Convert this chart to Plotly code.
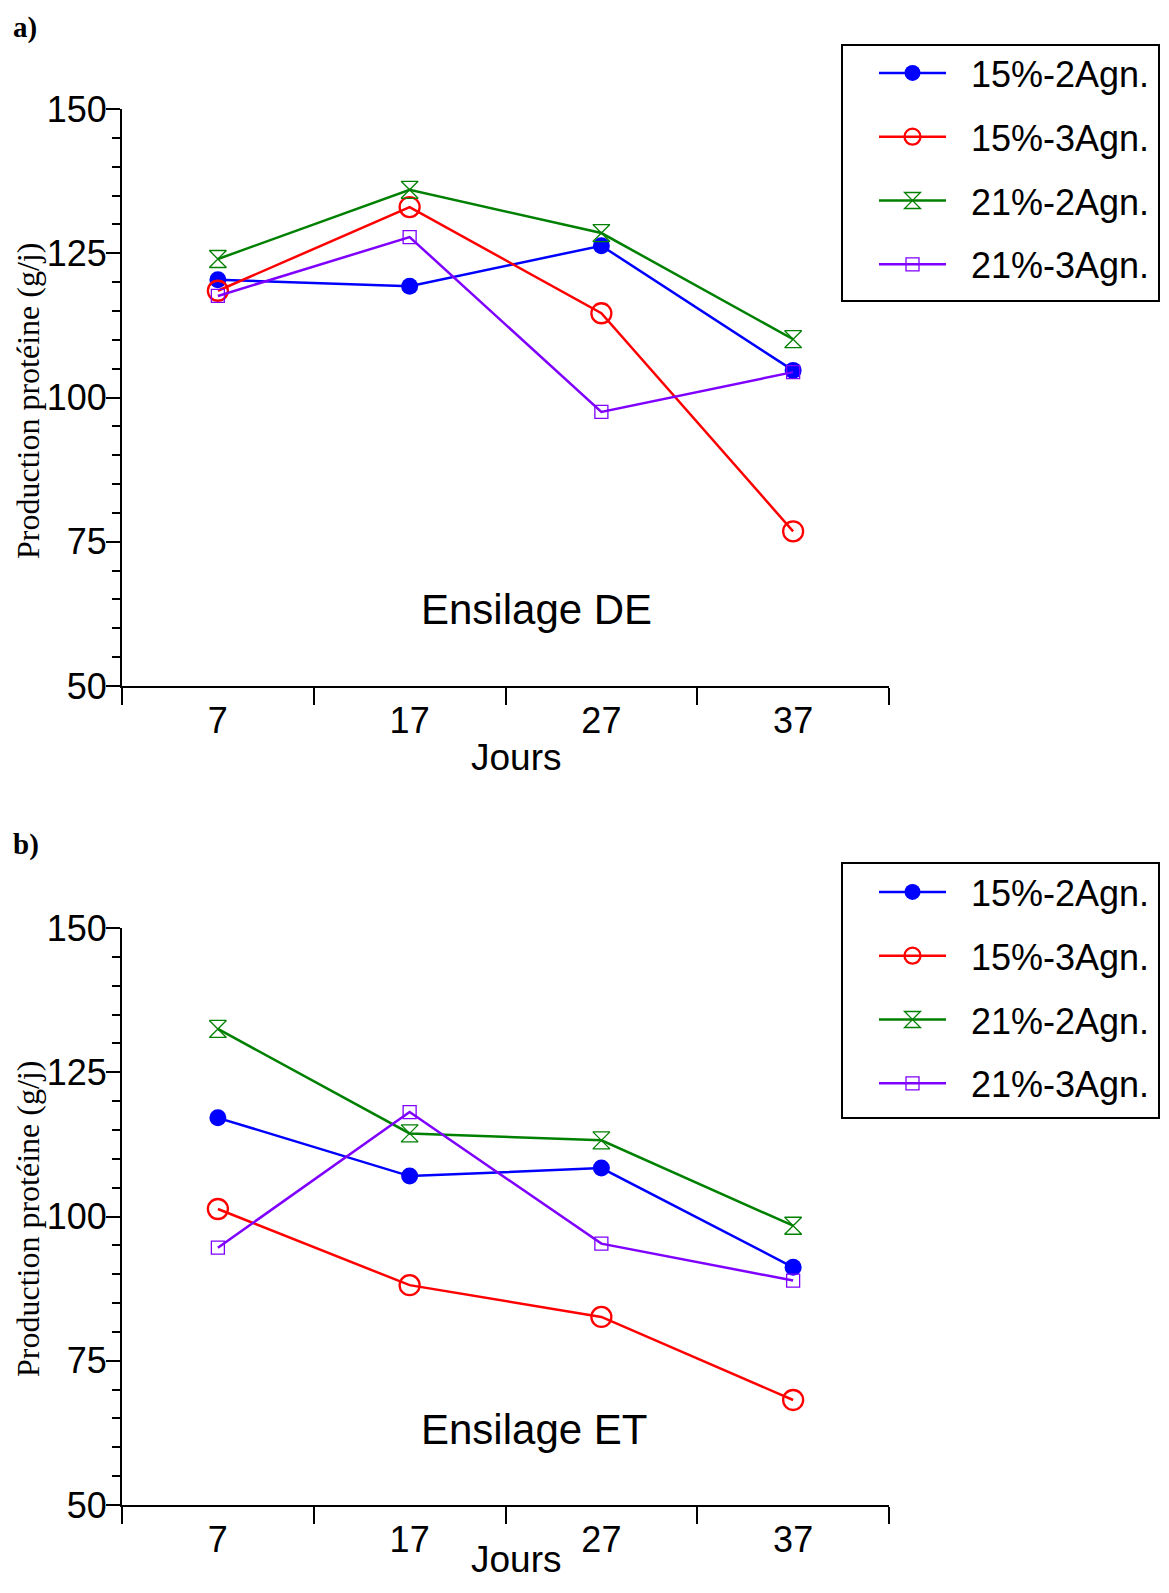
import plotly.graph_objects as go

# ---- data ----
days = [7, 17, 27, 37]
day_labels = ["7", "17", "27", "37"]
series_names = ["15%-2Agn.", "15%-3Agn.", "21%-2Agn.", "21%-3Agn."]

de_15_2 = [120.4, 119.3, 126.3, 104.7]
de_15_3 = [118.5, 133.0, 114.6, 76.8]
de_21_2 = [124.0, 136.0, 128.5, 110.1]
de_21_3 = [117.6, 127.8, 97.5, 104.4]

et_15_2 = [117.1, 107.0, 108.4, 91.2]
et_15_3 = [101.3, 88.1, 82.6, 68.2]
et_21_2 = [132.5, 114.4, 113.2, 98.4]
et_21_3 = [94.6, 118.1, 95.3, 88.9]

y_ticks = [50, 75, 100, 125, 150]
panel_titles = ["Ensilage DE", "Ensilage ET"]
panel_labels = ["a)", "b)"]
x_title = "Jours"
y_title = "Production protéine (g/j)"

# ---- styles ----
colors = ["#0000FF", "#FF0000", "#008000", "#7F00FF"]
symbols = ["circle", "circle-open", "hourglass-open", "square-open"]
msizes = [17, 20, 17, 13]
mlw = [0, 2.3, 1.3, 1.3]

SANS = "Liberation Sans, Arial, sans-serif"
SERIF = "Liberation Serif, Times New Roman, serif"

# page has an 8px body margin: work in screen pixels and convert
OFF = 8
SW, SH = 1169, 1593
FW, FH = SW - OFF, SH - 2 * OFF

def px(sx):
    return (sx - OFF) / FW

def py(sy):
    return 1 - (sy - OFF) / FH

fig = go.Figure()

panels = [
    ([de_15_2, de_15_3, de_21_2, de_21_3], "x", "y", "legend"),
    ([et_15_2, et_15_3, et_21_2, et_21_3], "x2", "y2", "legend2"),
]
for p, (series, xa, ya, lg) in enumerate(panels):
    for i, vals in enumerate(series):
        fig.add_trace(go.Scatter(
            x=days, y=vals, mode="lines+markers",
            name="\u00a0\u00a0" + series_names[i],
            xaxis=xa, yaxis=ya, legend=lg, legendgroup=f"{lg}_{i}",
            line=dict(color=colors[i], width=2.5),
            marker=dict(symbol=symbols[i], size=msizes[i], color=colors[i],
                        line=dict(color=colors[i], width=mlw[i])),
        ))

xdom = [px(122), px(889)]
ydoms = [[py(686), py(109)], [py(1505), py(928)]]

def xaxis_cfg(anchor):
    return dict(
        domain=xdom, anchor=anchor, range=[2, 42], automargin=False,
        tickmode="array", tickvals=days, ticktext=day_labels,
        ticks="outside", ticklen=0, ticklabelstandoff=2,
        tickfont=dict(family=SANS, size=36, color="black"),
        minor=dict(tickmode="linear", tick0=2, dtick=10, ticks="outside",
                   ticklen=17, tickwidth=2, tickcolor="black", showgrid=False),
        showline=True, linewidth=2, linecolor="black",
        showgrid=False, zeroline=False,
    )

def yaxis_cfg(dom, anchor):
    return dict(
        domain=dom, anchor=anchor, range=[50, 150], automargin=False,
        tickmode="array", tickvals=y_ticks,
        ticks="outside", ticklen=14, tickwidth=2, tickcolor="black",
        ticklabelstandoff=-8,
        tickfont=dict(family=SANS, size=36, color="black"),
        minor=dict(tickmode="linear", tick0=50, dtick=5, ticks="outside",
                   ticklen=8, tickwidth=2, tickcolor="black", showgrid=False),
        showline=True, linewidth=2, linecolor="black",
        showgrid=False, zeroline=False,
    )

legend_common = dict(
    font=dict(family=SANS, size=36, color="black"),
    bgcolor="rgba(0,0,0,0)", borderwidth=0,
    xanchor="left", yanchor="top", tracegroupgap=14, itemwidth=67,
)

fig.update_layout(
    width=FW, height=FH, margin=dict(l=0, r=0, t=0, b=0),
    plot_bgcolor="white", paper_bgcolor="white",
    xaxis=xaxis_cfg("y"), yaxis=yaxis_cfg(ydoms[0], "x"),
    xaxis2=xaxis_cfg("y2"), yaxis2=yaxis_cfg(ydoms[1], "x2"),
    legend=dict(x=px(874), y=py(43), **legend_common),
    legend2=dict(x=px(874), y=py(862), **legend_common),
)

# legend frames
shapes = []
for top, bot in [(45, 301), (863, 1118)]:
    shapes.append(dict(type="rect", xref="paper", yref="paper",
                       x0=px(842), x1=px(1159), y0=py(bot), y1=py(top),
                       line=dict(color="black", width=2), fillcolor="rgba(0,0,0,0)",
                       layer="below"))
fig.update_layout(shapes=shapes)

annos = []
title_pos = [(23.64, 63.2), (23.5, 63.0)]
ytitle_centres = [401, 1219]
xtitle_centres = [757, 1559]
for p in range(2):
    xr, yr = ("x", "y") if p == 0 else ("x2", "y2")
    annos.append(dict(text=panel_titles[p], x=title_pos[p][0], y=title_pos[p][1],
                      xref=xr, yref=yr, xanchor="center", yanchor="middle",
                      showarrow=False, font=dict(family=SANS, size=42, color="black")))
    annos.append(dict(text=y_title, textangle=-90, x=px(28), y=py(ytitle_centres[p]),
                      xref="paper", yref="paper", xanchor="center", yanchor="middle",
                      showarrow=False, font=dict(family=SERIF, size=32, color="black")))
    annos.append(dict(text=x_title, x=px(516), y=py(xtitle_centres[p]),
                      xref="paper", yref="paper", xanchor="center", yanchor="middle",
                      showarrow=False, font=dict(family=SANS, size=37, color="black")))
for lab, top in [(panel_labels[0], 9), (panel_labels[1], 826)]:
    annos.append(dict(text=f"<b>{lab}</b>", x=px(11), y=py(top), xref="paper", yref="paper",
                      xanchor="left", yanchor="top", showarrow=False,
                      font=dict(family=SERIF, size=29, color="black")))
fig.update_layout(annotations=annos)

fig.write_html("out.html")
